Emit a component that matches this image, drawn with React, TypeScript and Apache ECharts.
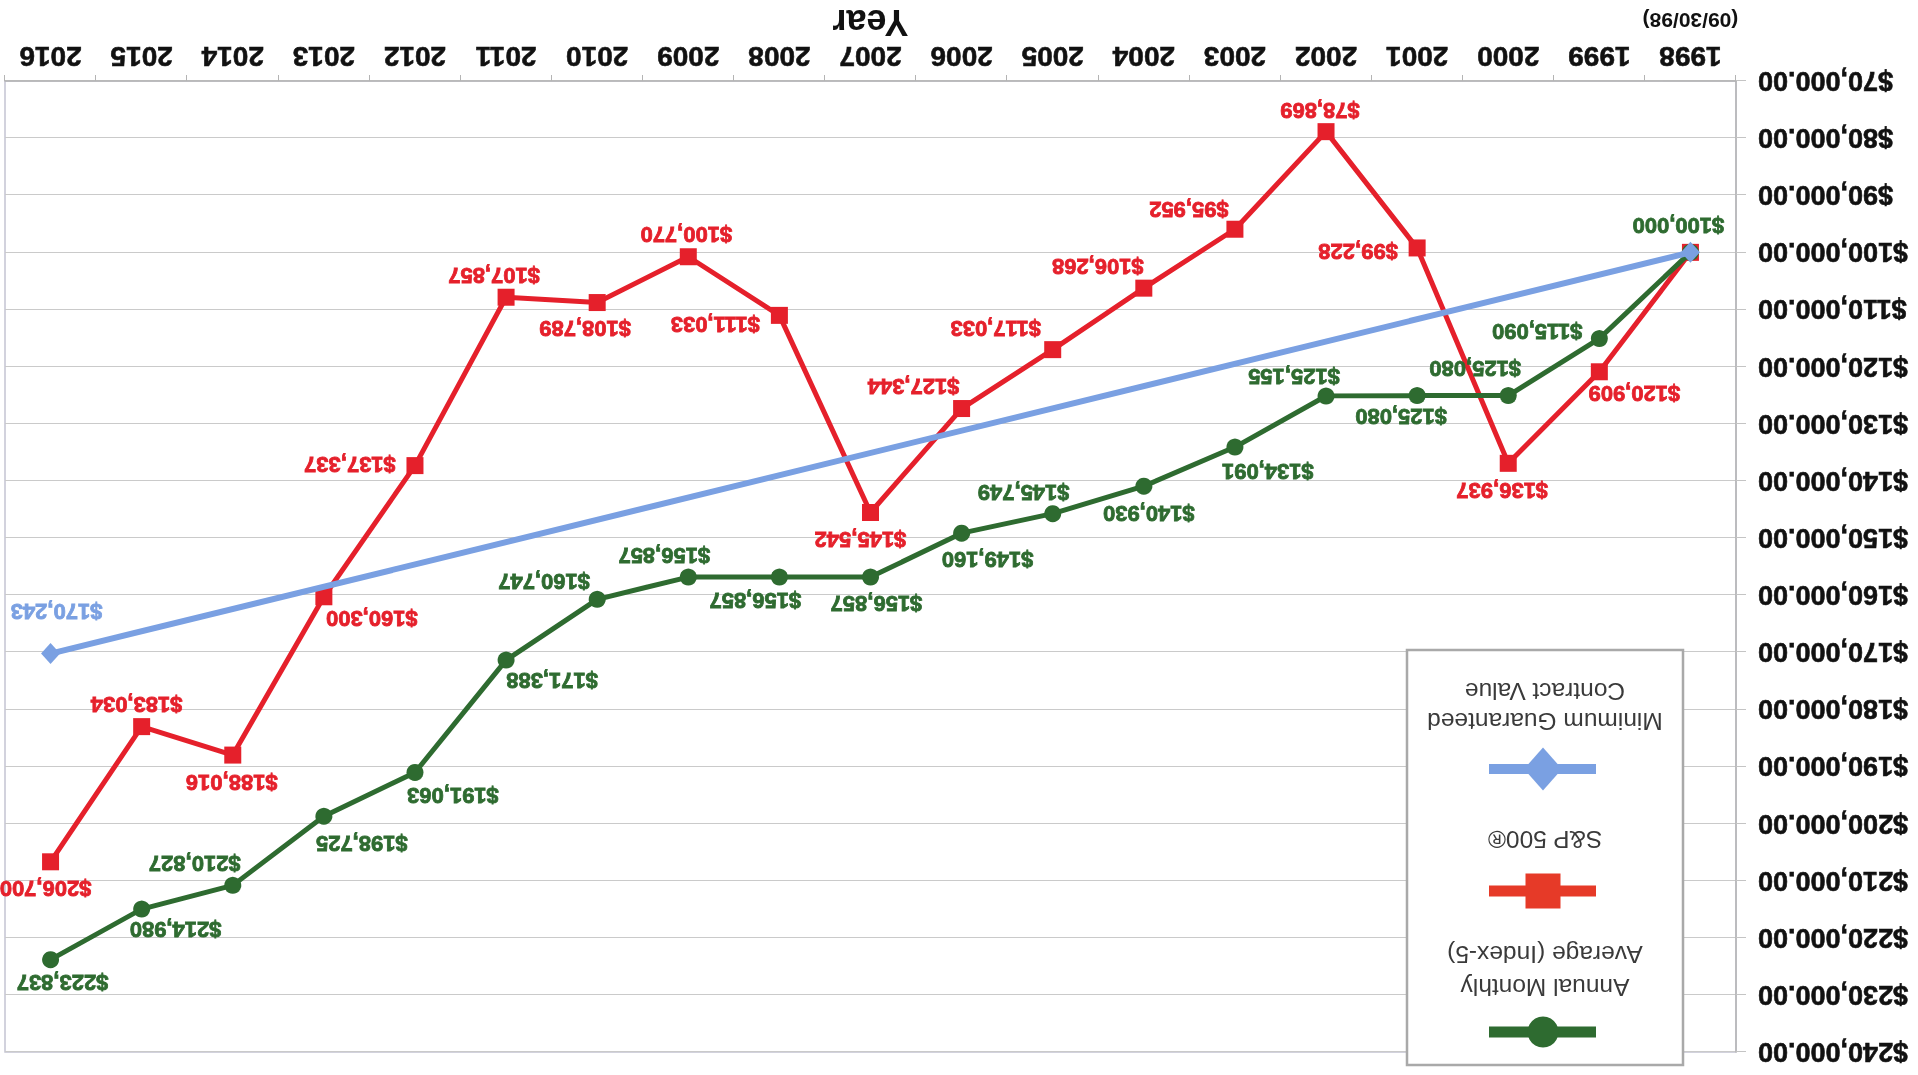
import React, { useEffect, useRef } from "react";
import * as echarts from "echarts";

const years = ["1998", "1999", "2000", "2001", "2002", "2003", "2004", "2005", "2006", "2007", "2008", "2009", "2010", "2011", "2012", "2013", "2014", "2015", "2016"];

const indexFiveValues = [100000, 115090, 125080, 125080, 125155, 134091, 140930, 145749, 149160, 156857, 156857, 156857, 160747, 171388, 191063, 198725, 210827, 214980, 223837];

const sp500Values = [100000, 120909, 136937, 99228, 78869, 95952, 106268, 117033, 127344, 145542, 111033, 100770, 108789, 107857, 137337, 160300, 188016, 183034, 206700];

const guaranteedValues: (number | null)[] = [100000, null, null, null, null, null, null, null, null, null, null, null, null, null, null, null, null, null, 170243];

const seriesNames = ["Annual Monthly Average (Index-5)", "S&P 500®", "Minimum Guaranteed Contract Value"];

// label placement (pixel offsets from each point), layout only
const indexFiveLabelOffsets: [number, number][] = [
  [12, 27], [62, 7], [33, 27], [16, -21], [32, 20], [-33, -24], [-5, -27], [29, 21], [-26, -26], [-6, -26],
  [24, -23], [24, 22], [53, 18], [-46, -20], [-38, -23], [-38, -27], [38, 22], [-34, -20], [-12, -23],
];
const sp500LabelOffsets: ([number, number] | null)[] = [
  null, [-35, -22], [6, -27], [59, -4], [6, 21], [46, 20], [46, 22], [57, 21], [48, 22], [10, -27],
  [64, -9], [2, 22], [12, -26], [12, 22], [65, 1], [-48, -22], [1, -27], [5, 22], [5, -27],
];
const guaranteedLabelOffsets: ([number, number] | null)[] = guaranteedValues.map((v, i) => (i === 18 ? [-6, 42] : null));

const GREEN = "#2e6b30";
const RED = "#e5202b";
const BLUE = "#7aa0e2";
const FONT = "'Liberation Sans', Arial, sans-serif";

const money = (v: number) => "$" + v.toLocaleString("en-US");

function buildData(values: (number | null)[], offsets: ([number, number] | null)[]) {
  return values.map((v, i) => {
    const off = offsets[i];
    if (v === null) return null;
    return off
      ? { value: v, label: { show: true, offset: off } }
      : { value: v, label: { show: false } };
  });
}

export default function App() {
  const ref = useRef<HTMLDivElement>(null);

  useEffect(() => {
    if (!ref.current) return;
    const chart = echarts.init(ref.current, null, { renderer: "svg" });

    const labelBase = {
      show: true,
      position: "inside",
      fontFamily: FONT,
      fontWeight: "bold",
      fontSize: 22,
      textBorderWidth: 0.8,
      formatter: (p: any) => money(p.value),
    };

    const legendX = 375;
    const legendText = (text: string, y: number) => ({
      type: "text",
      x: 373,
      y,
      z: 101,
      style: {
        text,
        x: 0,
        y: 0,
        fill: "#3a3a3a",
        font: `24.5px ${FONT}`,
        textAlign: "center",
        textVerticalAlign: "middle",
      },
    });

    const option: any = {
      animation: false,
      backgroundColor: "#ffffff",
      grid: {
        left: 182,
        right: 5,
        top: 23,
        bottom: 81,
        outerBoundsMode: "none",
        containLabel: false,
        show: true,
        borderColor: "#c4c4d2",
        borderWidth: 1.5,
        backgroundColor: "transparent",
      },
      xAxis: {
        type: "category",
        data: years,
        boundaryGap: true,
        name: "Year",
        nameLocation: "middle",
        nameGap: 58,
        nameMoveOverlap: false,
        nameTextStyle: {
          fontFamily: FONT,
          fontWeight: "bold",
          fontSize: 36,
          color: "#111",
          verticalAlign: "middle",
        },
        axisLine: { show: true, lineStyle: { color: "#b4b4b4", width: 1.5 } },
        axisTick: { show: true, length: 6, lineStyle: { color: "#b4b4b4" } },
        axisLabel: {
          margin: 7,
          interval: 0,
          formatter: (v: string) => (v === "1998" ? `{a|${v}}\n{b|(09/30/98)}` : `{a|${v}}`),
          rich: {
            a: { fontFamily: FONT, fontWeight: "bold", fontSize: 28, color: "#111", lineHeight: 34, textBorderColor: "#111", textBorderWidth: 0.6 },
            b: { fontFamily: FONT, fontWeight: "bold", fontSize: 21, color: "#111", lineHeight: 38 },
          },
        },
        splitLine: { show: false },
      },
      yAxis: {
        type: "value",
        min: 70000,
        max: 240000,
        interval: 10000,
        axisLine: { show: true, lineStyle: { color: "#b4b4b4", width: 1.5 } },
        axisTick: { show: true, length: 10, lineStyle: { color: "#c4c4c4" } },
        splitLine: { show: true, lineStyle: { color: "#cacaca", width: 1.2 } },
        axisLabel: {
          margin: 22,
          fontFamily: FONT,
          fontWeight: "bold",
          fontSize: 27,
          color: "#111",
          textBorderColor: "#111",
          textBorderWidth: 0.6,
          formatter: (v: number) => money(v) + ".00",
        },
      },
      series: [
        {
          name: seriesNames[0],
          type: "line",
          data: buildData(indexFiveValues, indexFiveLabelOffsets),
          symbol: "circle",
          symbolSize: 17,
          lineStyle: { color: GREEN, width: 5 },
          itemStyle: { color: GREEN },
          label: { ...labelBase, color: GREEN, textBorderColor: GREEN },
          z: 3,
        },
        {
          name: seriesNames[1],
          type: "line",
          data: buildData(sp500Values, sp500LabelOffsets),
          symbol: "rect",
          symbolSize: 17,
          lineStyle: { color: RED, width: 5 },
          itemStyle: { color: RED },
          label: { ...labelBase, color: RED, textBorderColor: RED },
          z: 2,
        },
        {
          name: seriesNames[2],
          type: "line",
          data: buildData(guaranteedValues, guaranteedLabelOffsets),
          connectNulls: true,
          symbol: "diamond",
          symbolSize: [19, 21],
          lineStyle: { color: BLUE, width: 6 },
          itemStyle: { color: BLUE },
          label: { ...labelBase, color: BLUE, textBorderColor: BLUE },
          z: 4,
        },
      ],
      graphic: [
        {
          type: "rect",
          shape: { x: 235, y: 10, width: 276, height: 415 },
          style: { fill: "#ffffff", stroke: "#a9a9a9", lineWidth: 2.5 },
          z: 100,
        },
        // green item
        { type: "rect", shape: { x: legendX - 53, y: 43 - 5.5, width: 107, height: 11 }, style: { fill: GREEN }, z: 101 },
        { type: "circle", shape: { cx: legendX, cy: 43, r: 15.5 }, style: { fill: GREEN }, z: 102 },
        legendText("Annual Monthly", 87),
        legendText("Average (Index-5)", 120),
        // red item
        { type: "rect", shape: { x: legendX - 53, y: 184 - 5.5, width: 107, height: 11 }, style: { fill: "#e63a28" }, z: 101 },
        { type: "rect", shape: { x: legendX - 17.5, y: 184 - 17.5, width: 35, height: 35 }, style: { fill: "#e63a28" }, z: 102 },
        legendText("S&P 500®", 235),
        // blue item
        { type: "rect", shape: { x: legendX - 53, y: 306 - 5, width: 107, height: 10 }, style: { fill: BLUE }, z: 101 },
        {
          type: "polygon",
          shape: { points: [[legendX, 306 - 21.5], [legendX + 19, 306], [legendX, 306 + 21.5], [legendX - 19, 306]] },
          style: { fill: BLUE },
          z: 102,
        },
        legendText("Minimum Guaranteed", 353),
        legendText("Contract Value", 383),
      ],
    };

    chart.setOption(option);
    return () => chart.dispose();
  }, []);

  return (
    <div
      style={{
        position: "fixed",
        left: 0,
        top: 0,
        width: 1918,
        height: 1075,
        background: "#ffffff",
        transform: "rotate(180deg)",
      }}
    >
      <div ref={ref} style={{ width: 1918, height: 1075 }} />
    </div>
  );
}
